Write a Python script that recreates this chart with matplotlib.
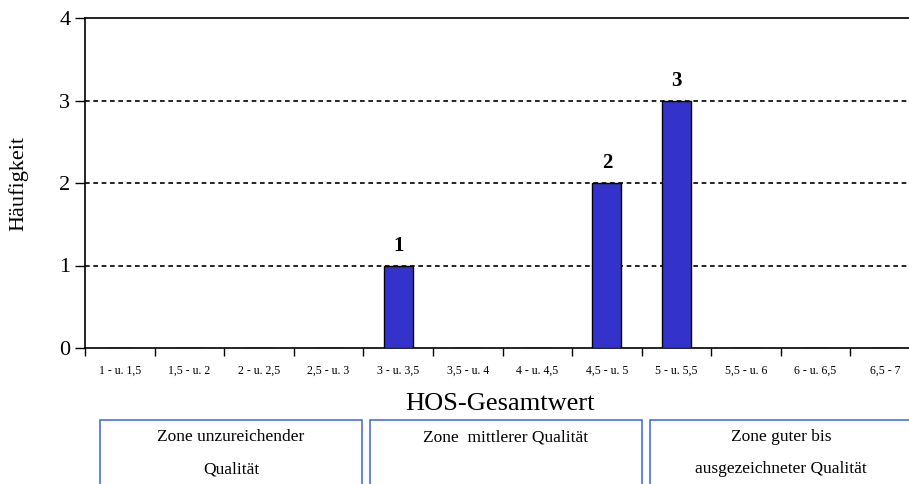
import numpy as np
import matplotlib.pyplot as plt
from matplotlib.patches import Rectangle

# Daten
kategorien = ['1 - u. 1,5', '1,5 - u. 2', '2 - u. 2,5', '2,5 - u. 3', '3 - u. 3,5',
              '3,5 - u. 4', '4 - u. 4,5', '4,5 - u. 5', '5 - u. 5,5', '5,5 - u. 6',
              '6 - u. 6,5', '6,5 - 7']
haeufigkeit = [0, 0, 0, 0, 1, 0, 0, 2, 3, 0, 0, 0]
y_ticks = [0, 1, 2, 3, 4]
zonen = [('Zone unzureichender', 'Qualität'),
         ('Zone  mittlerer Qualität', ''),
         ('Zone guter bis', 'ausgezeichneter Qualität')]

plt.rcParams['font.family'] = 'Liberation Serif'

fig = plt.figure(figsize=(9.09, 4.84), dpi=100)
# Plotbereich reicht rechts ueber den Rand hinaus (wie im Original)
ax = fig.add_axes([85 / 909, 1 - 348 / 484, 835 / 909, 330 / 484])

x = np.arange(len(kategorien))
ax.bar(x, haeufigkeit, width=0.42, color='#3333CC', edgecolor='black', linewidth=1, zorder=3)
for xi, h in zip(x, haeufigkeit):
    if h > 0:
        ax.text(xi, h + 0.12, str(h), ha='center', va='bottom', fontsize=15, fontweight='bold')

ax.set_xlim(-0.5, len(kategorien) - 0.5)
ax.set_ylim(0, 4)
ax.set_yticks(y_ticks)
ax.tick_params(axis='y', labelsize=16, length=7, width=1, direction='out')

# Striche an den Klassengrenzen, Beschriftung in der Mitte
ax.set_xticks(np.arange(len(kategorien) + 1) - 0.5)
ax.set_xticklabels([])
ax.set_xticks(x, minor=True)
ax.set_xticklabels(kategorien, minor=True, fontsize=8.5)
ax.tick_params(axis='x', which='major', length=6, width=1)
ax.tick_params(axis='x', which='minor', length=0, pad=12)

for y in [1, 2, 3]:
    ax.axhline(y, color='black', linestyle=(0, (2.8, 2.2)), linewidth=1.2, zorder=1)

ax.spines['right'].set_visible(False)
for s in ['left', 'bottom', 'top']:
    ax.spines[s].set_linewidth(1.2)

ax.set_ylabel('Häufigkeit', fontsize=16, labelpad=22)
fig.text(500 / 909, 1 - 404 / 484, 'HOS-Gesamtwert', ha='center', va='center', fontsize=19)

# Zonen-Kaesten unten
kasten = [(100, 362), (370, 642), (650, 912)]
for (x0, x1), (z1, z2) in zip(kasten, zonen):
    r = Rectangle((x0 / 909, -0.05), (x1 - x0) / 909, 0.05 + (1 - 420 / 484),
                  transform=fig.transFigure, fill=False, edgecolor='#4a6ee0', linewidth=1.2)
    fig.patches.append(r)
    xm = (x0 + x1) / 2 / 909
    fig.text(xm, 1 - 437 / 484, z1, ha='center', va='center', fontsize=12.5)
    if z2:
        fig.text(xm, 1 - 469 / 484, z2, ha='center', va='center', fontsize=12.5)

fig.savefig('out.png', dpi=100)
